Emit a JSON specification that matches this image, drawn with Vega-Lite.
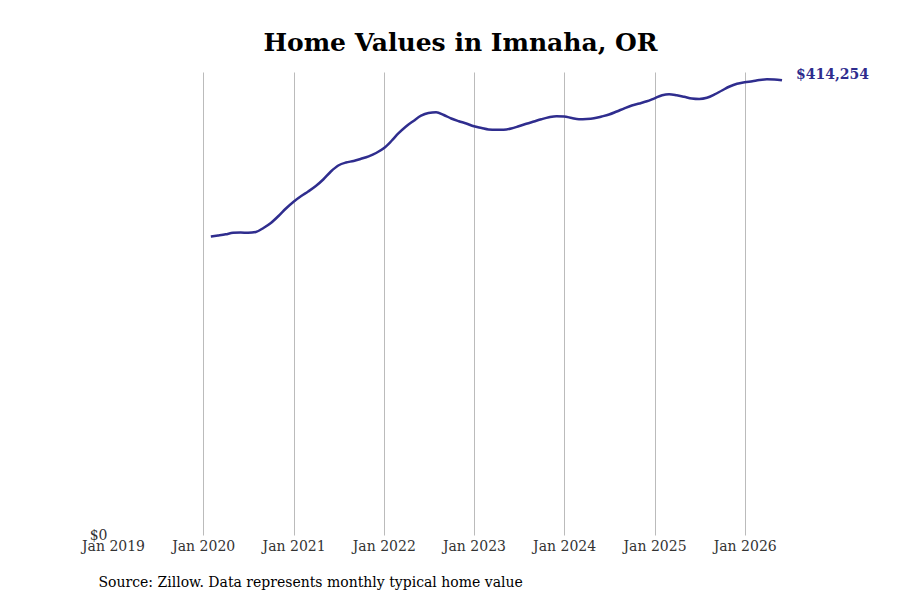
{
  "$schema": "https://vega.github.io/schema/vega-lite/v6.json",
  "autosize": "none",
  "width": 669,
  "height": 463,
  "padding": {"left": 113, "top": 72, "right": 118, "bottom": 65},
  "background": "white",
  "title": {
    "text": "Home Values in Imnaha, OR",
    "font": "DejaVu Serif",
    "fontSize": 25,
    "fontWeight": "bold",
    "color": "black",
    "anchor": "middle",
    "baseline": "alphabetic",
    "offset": -8,
    "dx": 13
  },
  "data": {
    "values": [
      {"date": "2020-02-01", "value": 271900},
      {"date": "2020-03-01", "value": 272850},
      {"date": "2020-04-01", "value": 273950},
      {"date": "2020-05-01", "value": 275300},
      {"date": "2020-06-01", "value": 275580},
      {"date": "2020-07-01", "value": 275300},
      {"date": "2020-08-01", "value": 276040},
      {"date": "2020-09-01", "value": 279680},
      {"date": "2020-10-01", "value": 284240},
      {"date": "2020-11-01", "value": 290620},
      {"date": "2020-12-01", "value": 297450},
      {"date": "2021-01-01", "value": 303650},
      {"date": "2021-02-01", "value": 308840},
      {"date": "2021-03-01", "value": 312940},
      {"date": "2021-04-01", "value": 317950},
      {"date": "2021-05-01", "value": 323870},
      {"date": "2021-06-01", "value": 331160},
      {"date": "2021-07-01", "value": 336630},
      {"date": "2021-08-01", "value": 339360},
      {"date": "2021-09-01", "value": 340730},
      {"date": "2021-10-01", "value": 342730},
      {"date": "2021-11-01", "value": 345010},
      {"date": "2021-12-01", "value": 348010},
      {"date": "2022-01-01", "value": 352290},
      {"date": "2022-02-01", "value": 358940},
      {"date": "2022-03-01", "value": 365780},
      {"date": "2022-04-01", "value": 372150},
      {"date": "2022-05-01", "value": 377160},
      {"date": "2022-06-01", "value": 382000},
      {"date": "2022-07-01", "value": 384460},
      {"date": "2022-08-01", "value": 385090},
      {"date": "2022-09-01", "value": 382640},
      {"date": "2022-10-01", "value": 379440},
      {"date": "2022-11-01", "value": 376980},
      {"date": "2022-12-01", "value": 374890},
      {"date": "2023-01-01", "value": 372340},
      {"date": "2023-02-01", "value": 370790},
      {"date": "2023-03-01", "value": 369420},
      {"date": "2023-04-01", "value": 369150},
      {"date": "2023-05-01", "value": 369240},
      {"date": "2023-06-01", "value": 370330},
      {"date": "2023-07-01", "value": 372340},
      {"date": "2023-08-01", "value": 374620},
      {"date": "2023-09-01", "value": 376710},
      {"date": "2023-10-01", "value": 378720},
      {"date": "2023-11-01", "value": 380540},
      {"date": "2023-12-01", "value": 381540},
      {"date": "2024-01-01", "value": 381270},
      {"date": "2024-02-01", "value": 379900},
      {"date": "2024-03-01", "value": 378810},
      {"date": "2024-04-01", "value": 378990},
      {"date": "2024-05-01", "value": 379630},
      {"date": "2024-06-01", "value": 381270},
      {"date": "2024-07-01", "value": 383090},
      {"date": "2024-08-01", "value": 385820},
      {"date": "2024-09-01", "value": 388740},
      {"date": "2024-10-01", "value": 391290},
      {"date": "2024-11-01", "value": 393110},
      {"date": "2024-12-01", "value": 395110},
      {"date": "2025-01-01", "value": 397850},
      {"date": "2025-02-01", "value": 400580},
      {"date": "2025-03-01", "value": 401490},
      {"date": "2025-04-01", "value": 400580},
      {"date": "2025-05-01", "value": 399210},
      {"date": "2025-06-01", "value": 397670},
      {"date": "2025-07-01", "value": 397210},
      {"date": "2025-08-01", "value": 398310},
      {"date": "2025-09-01", "value": 401310},
      {"date": "2025-10-01", "value": 404950},
      {"date": "2025-11-01", "value": 408600},
      {"date": "2025-12-01", "value": 411060},
      {"date": "2026-01-01", "value": 412430},
      {"date": "2026-02-01", "value": 413430},
      {"date": "2026-03-01", "value": 414520},
      {"date": "2026-04-01", "value": 415160},
      {"date": "2026-05-01", "value": 415070},
      {"date": "2026-06-01", "value": 414254}
    ]
  },
  "encoding": {
    "x": {
      "field": "date",
      "type": "temporal",
      "scale": {
        "type": "utc",
        "domain": [
          {"year": 2019, "month": 1, "date": 1, "utc": true},
          {"year": 2026, "month": 6, "date": 1, "utc": true}
        ]
      },
      "axis": {
        "values": [
          {"year": 2019, "month": 1, "date": 1, "utc": true},
          {"year": 2020, "month": 1, "date": 1, "utc": true},
          {"year": 2021, "month": 1, "date": 1, "utc": true},
          {"year": 2022, "month": 1, "date": 1, "utc": true},
          {"year": 2023, "month": 1, "date": 1, "utc": true},
          {"year": 2024, "month": 1, "date": 1, "utc": true},
          {"year": 2025, "month": 1, "date": 1, "utc": true},
          {"year": 2026, "month": 1, "date": 1, "utc": true}
        ],
        "labelExpr": "utcFormat(datum.value, '%b %Y')",
        "title": "Source: Zillow. Data represents monthly typical home value",
        "titleFont": "DejaVu Serif",
        "titleFontSize": 14,
        "titleFontWeight": "normal",
        "titleColor": "black",
        "titleAnchor": "start",
        "titleAlign": "left",
        "titleX": -15,
        "titlePadding": 22,
        "labelFont": "DejaVu Serif",
        "labelFontSize": 14,
        "labelColor": "#333333",
        "labelPadding": 4,
        "labelFlush": false,
        "labelOverlap": false,
        "domain": false,
        "ticks": false,
        "grid": true,
        "gridColor": "#bbbbbb",
        "gridWidth": 1,
        "gridOpacity": {"condition": {"test": "utcyear(datum.value) == 2019", "value": 0}, "value": 1}
      }
    },
    "y": {
      "field": "value",
      "type": "quantitative",
      "scale": {"domain": [0, 421800]},
      "axis": {
        "values": [0],
        "format": "$,.0f",
        "title": null,
        "labelFont": "DejaVu Serif",
        "labelFontSize": 14,
        "labelColor": "#333333",
        "labelPadding": 6,
        "domain": false,
        "ticks": false,
        "grid": false
      }
    }
  },
  "layer": [
    {
      "mark": {"type": "line", "color": "#2f2d8e", "strokeWidth": 2.5, "interpolate": "monotone"}
    },
    {
      "transform": [{"filter": "datum.value == 414254"}],
      "mark": {
        "type": "text",
        "align": "left",
        "baseline": "middle",
        "dx": 14,
        "dy": -5,
        "font": "DejaVu Serif",
        "fontSize": 14,
        "fontWeight": "bold",
        "color": "#2f2d8e"
      },
      "encoding": {"text": {"field": "value", "type": "quantitative", "format": "$,.0f"}}
    }
  ],
  "config": {"view": {"stroke": null}}
}
